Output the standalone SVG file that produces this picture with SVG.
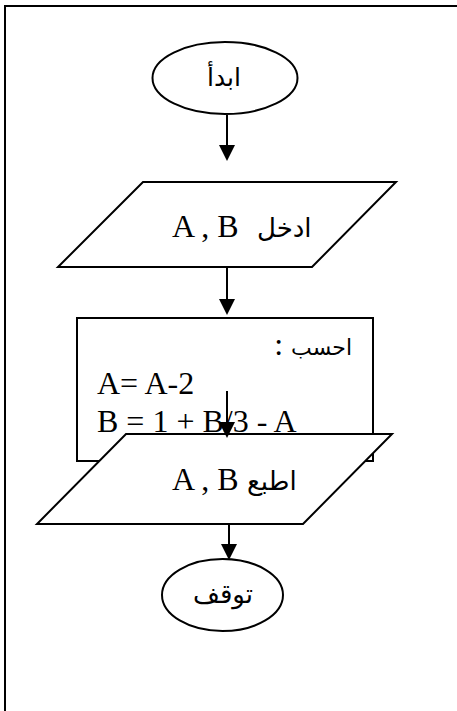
<svg xmlns="http://www.w3.org/2000/svg" width="457" height="711" viewBox="0 0 457 711">
<style>
.s{fill:#fff;stroke:#000;stroke-width:2}
.c{stroke:#000;stroke-width:2;fill:none}
.t{font-family:"Liberation Serif","Times New Roman",serif;font-size:32px;fill:#000}
.ar{font-family:"DejaVu Sans",sans-serif;font-size:26px}
</style>
<defs>
<marker id="ah" markerUnits="userSpaceOnUse" viewBox="0 -8 16 16" markerWidth="16" markerHeight="16" refX="0" refY="0" orient="auto">
<path d="M0,-8 L16,0 L0,8 Z" fill="#000"/>
</marker>
</defs>
<rect width="457" height="711" fill="#fff"/>
<path d="M5,711 V6 H457" fill="none" stroke="#000" stroke-width="2"/>
<g id="start">
<ellipse class="s" cx="225" cy="78" rx="72.5" ry="36"/>
<text class="t ar" x="224" y="86" text-anchor="middle" style="font-size:25px">ابدأ</text>
</g>
<g id="input">
<polygon class="s" points="143,182 396,182 312,267 58,267"/>
<text class="t" x="172" y="237">A , B<tspan class="ar" x="257">ادخل</tspan></text>
</g>
<g id="process">
<rect class="s" x="77" y="318" width="296" height="143"/>
<text class="t" x="352" y="355" direction="rtl" unicode-bidi="embed" text-anchor="start"><tspan class="ar" style="font-size:22px">احسب</tspan> :</text>
<text class="t" x="97" y="394">A= A-2</text>
<text class="t" x="97" y="432">B = 1 + B/3 - A</text>
</g>
<g id="output">
<polygon class="s" points="126,434 392,434 303,524 37,524"/>
<text class="t" x="172" y="490">A , B<tspan class="ar" x="247">اطبع</tspan></text>
</g>
<g id="stop">
<ellipse class="s" cx="222.5" cy="595" rx="60.5" ry="36"/>
<text class="t ar" x="223" y="603" text-anchor="middle">توقف</text>
</g>
<g id="connectors">
<line class="c" x1="227" y1="115" x2="227" y2="145" marker-end="url(#ah)"/>
<line class="c" x1="227" y1="267" x2="227" y2="299" marker-end="url(#ah)"/>
<line class="c" x1="227" y1="391" x2="227" y2="422" marker-end="url(#ah)"/>
<line class="c" x1="229" y1="524" x2="229" y2="544" marker-end="url(#ah)"/>
</g>
</svg>
